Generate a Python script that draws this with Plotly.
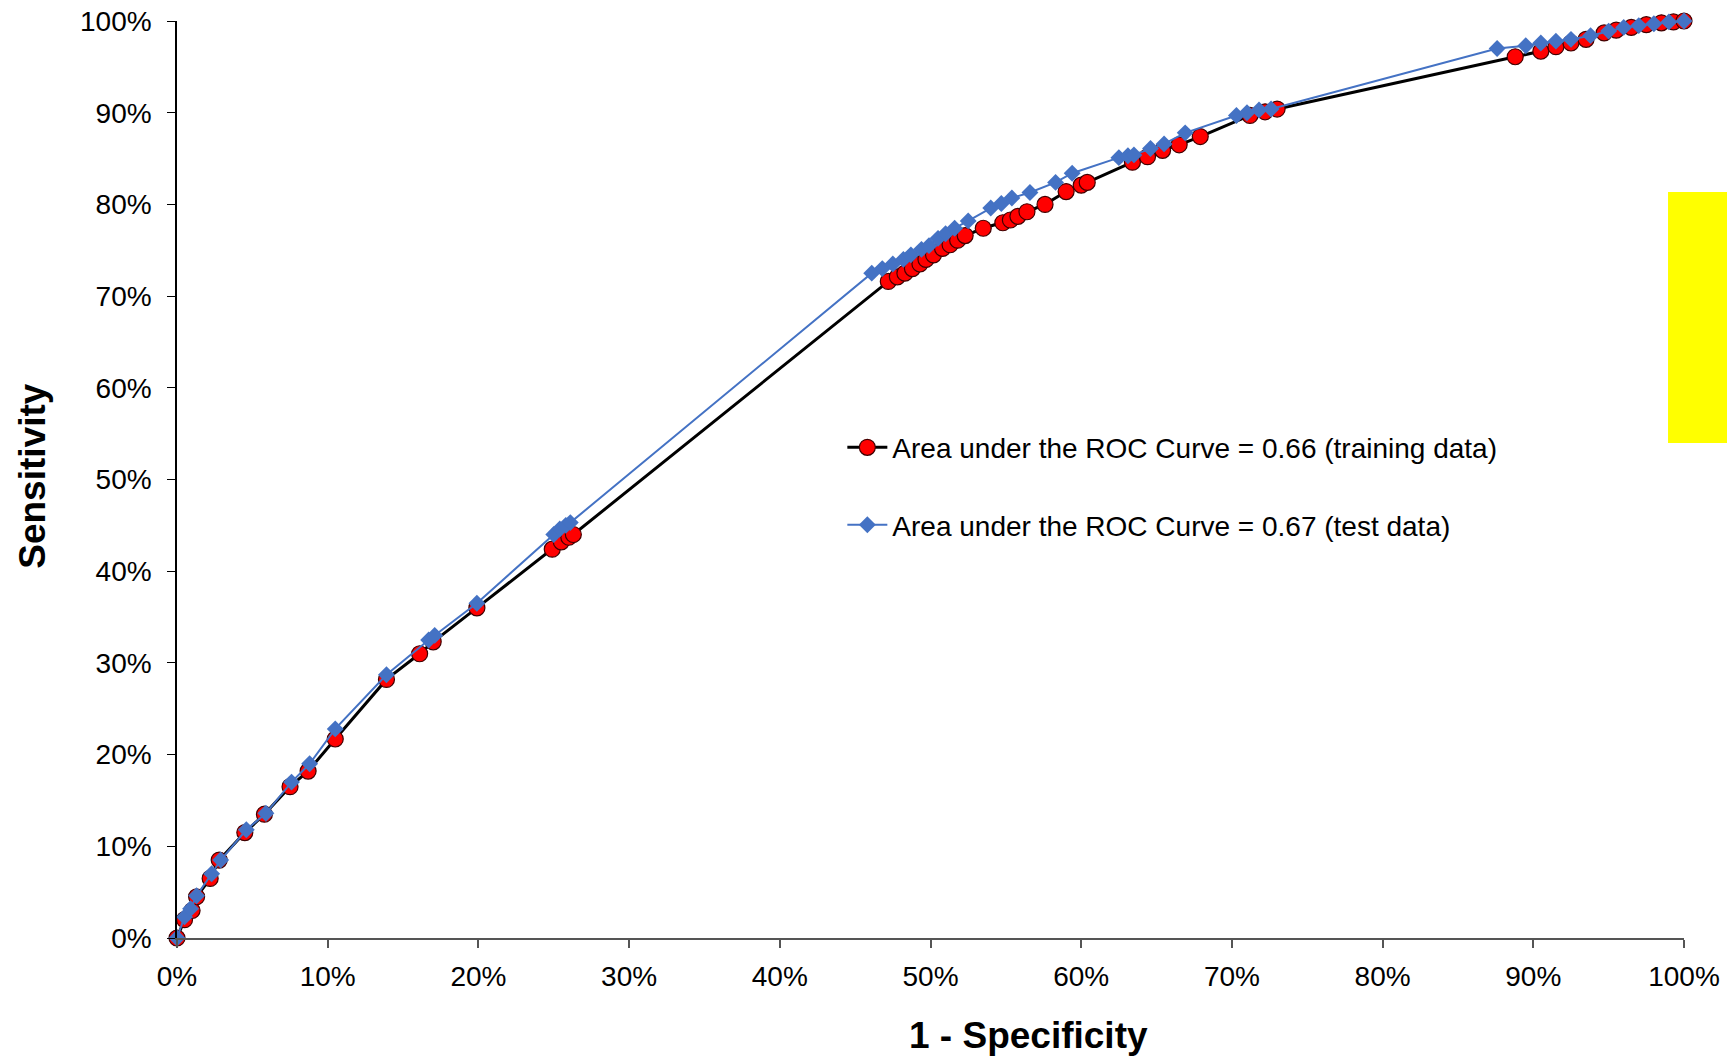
import plotly.graph_objects as go

# 1 - Specificity (%) and Sensitivity (%)
train_x = [0, 0.5, 1.0, 1.3, 2.2, 2.8, 4.5, 5.8, 7.5, 8.7, 10.5, 13.9, 16.1, 17.0, 19.9,
           24.9, 25.5, 26.0, 26.3,
           47.2, 47.8, 48.3, 48.8, 49.3, 49.7, 50.2, 50.8, 51.3, 51.8, 52.3, 53.5, 54.8,
           55.3, 55.8, 56.4, 57.6, 59.0, 60.0, 60.4, 63.4, 64.4, 65.4, 66.5, 67.9,
           71.2, 72.2, 73.0,
           88.8, 90.5, 91.5, 92.5, 93.5, 94.7, 95.5, 96.5, 97.5, 98.5, 99.3, 100]
train_y = [0, 2.0, 3.0, 4.5, 6.5, 8.5, 11.5, 13.5, 16.5, 18.2, 21.7, 28.2, 31.0, 32.3, 36.0,
           42.4, 43.2, 43.7, 44.0,
           71.6, 72.1, 72.5, 73.0, 73.5, 74.0, 74.5, 75.2, 75.6, 76.1, 76.6, 77.4, 78.0,
           78.3, 78.7, 79.2, 80.0, 81.4, 82.1, 82.4, 84.6, 85.2, 85.9, 86.5, 87.4,
           89.7, 90.1, 90.4,
           96.1, 96.7, 97.2, 97.6, 98.0, 98.7, 99.0, 99.3, 99.6, 99.8, 99.9, 100]

test_x = [0, 0.5, 0.9, 1.3, 2.3, 2.9, 4.6, 5.9, 7.6, 8.8, 10.5, 13.9, 16.7, 17.1, 19.9,
          25.0, 25.4, 25.8, 26.1,
          46.1, 46.8, 47.5, 48.2, 48.7, 49.4, 49.9, 50.5, 51.0, 51.6, 52.5, 54.0, 54.7,
          55.4, 56.6, 58.3, 59.4, 62.5, 63.1, 63.5, 64.6, 65.5, 66.9,
          70.3, 71.0, 71.8, 72.6,
          87.6, 89.5, 90.5, 91.5, 92.5, 93.8, 95.0, 96.0, 97.0, 98.0, 99.0, 100]
test_y = [0, 2.3, 3.2, 4.6, 7.0, 8.5, 11.8, 13.6, 17.0, 19.0, 22.8, 28.7, 32.5, 33.0, 36.5,
          44.0, 44.6, 45.0, 45.3,
          72.5, 73.0, 73.5, 74.0, 74.5, 75.1, 75.5, 76.3, 76.8, 77.4, 78.2, 79.6, 80.1,
          80.7, 81.3, 82.4, 83.4, 85.1, 85.3, 85.4, 86.1, 86.6, 87.8,
          89.7, 90.0, 90.3, 90.4,
          97.0, 97.3, 97.6, 97.8, 98.0, 98.4, 98.9, 99.3, 99.5, 99.7, 99.9, 100]

train_name = "Area under the ROC Curve = 0.66 (training data)"
test_name = "Area under the ROC Curve = 0.67 (test data)"

ticks = [0, 10, 20, 30, 40, 50, 60, 70, 80, 90, 100]
tick_labels = [f"{t}%" for t in ticks]

FONT = "Liberation Sans, Arial, sans-serif"

fig = go.Figure()
fig.add_trace(go.Scatter(
    x=train_x, y=train_y, mode="lines+markers", name=train_name, legendgroup="a",
    line=dict(color="black", width=3),
    marker=dict(symbol="circle", size=16, color="#FF0000", line=dict(color="#400000", width=1.2)),
    cliponaxis=False))
fig.add_trace(go.Scatter(
    x=test_x, y=test_y, mode="lines+markers", name=test_name, legendgroup="b",
    line=dict(color="#4472C4", width=2),
    marker=dict(symbol="diamond", size=13, color="#4472C4", line=dict(width=0)),
    cliponaxis=False))

fig.update_layout(
    width=1727, height=1056,
    margin=dict(l=177, r=43, t=21, b=118),
    paper_bgcolor="white", plot_bgcolor="white",
    font=dict(family=FONT, size=28, color="black"),
    showlegend=True,
    legend=dict(x=0.4415, y=0.562, xanchor="left", yanchor="top",
                bgcolor="rgba(0,0,0,0)", font=dict(size=28, family=FONT),
                tracegroupgap=38, itemwidth=40),
    xaxis=dict(range=[0, 100], tickvals=ticks, ticktext=tick_labels, automargin=False,
               showgrid=False, zeroline=False, showline=True, linecolor="#555555", linewidth=2,
               ticks="outside", ticklen=8, tickcolor="#555555", tickwidth=1.5,
               ticklabelstandoff=4,
               tickfont=dict(size=28, family=FONT)),
    yaxis=dict(range=[0, 100], tickvals=ticks, ticktext=tick_labels, automargin=False,
               showgrid=False, zeroline=False, showline=True, linecolor="black", linewidth=1.5,
               ticks="outside", ticklen=8, tickcolor="black", tickwidth=1.2,
               ticklabelstandoff=10,
               tickfont=dict(size=28, family=FONT)),
    shapes=[dict(type="rect", xref="paper", yref="paper",
                 x0=0.9894, x1=1.04, y0=0.5398, y1=0.8135,
                 fillcolor="#FFFF00", line=dict(width=0), layer="above")],
    annotations=[
        dict(text="<b>1 - Specificity</b>", xref="paper", yref="paper",
             x=0.565, y=-0.1058, xanchor="center", yanchor="middle", showarrow=False,
             font=dict(size=37, family=FONT)),
        dict(text="<b>Sensitivity</b>", xref="paper", yref="paper",
             x=-0.0956, y=0.504, xanchor="center", yanchor="middle", showarrow=False,
             textangle=-90, font=dict(size=37, family=FONT)),
    ],
)

fig.write_html("out.html")
